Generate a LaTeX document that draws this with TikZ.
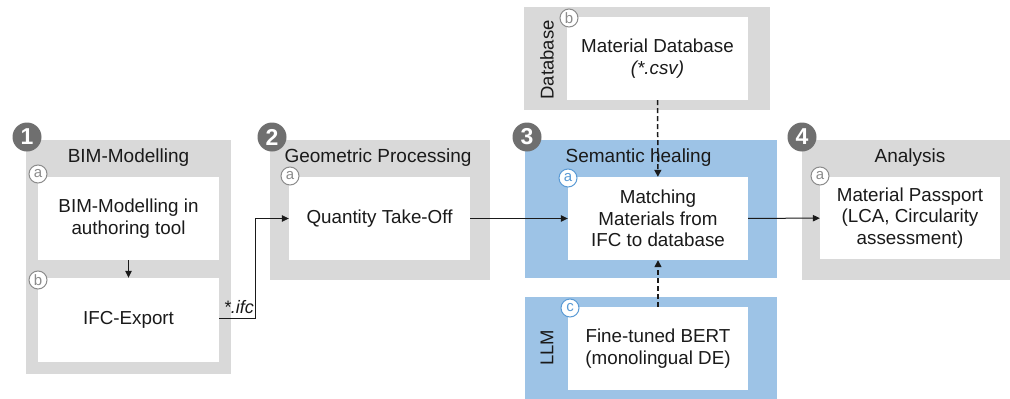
\documentclass[tikz,border=0pt]{standalone}
\usepackage{fontspec}
\setmainfont{Liberation Sans}
\usetikzlibrary{arrows.meta}
\definecolor{pgray}{HTML}{D9D9D9}
\definecolor{pblue}{HTML}{9DC3E6}
\definecolor{numgray}{HTML}{6F6F6F}
\definecolor{lgray}{HTML}{8C8C8C}
\definecolor{lblue}{HTML}{5B9BD5}
\definecolor{txt}{HTML}{1A1A1A}
\begin{document}
\begin{tikzpicture}[x=1pt,y=-1pt,
  panel/.style={rectangle, draw=none, inner sep=0pt},
  wbox/.style={rectangle, fill=white, draw=none, inner sep=0pt, align=center, text=txt,
    font=\fontsize{18.8}{21.5}\selectfont},
  ttl/.style={inner sep=0pt, text=txt, font=\fontsize{19}{21}\selectfont},
  num/.style={circle, fill=numgray, text=white, inner sep=0pt, minimum size=29pt,
    font=\fontsize{23}{23}\selectfont\bfseries},
  lett/.style={circle, fill=white, draw=lgray, line width=1pt, text=lgray, inner sep=0pt,
    minimum size=18pt, font=\fontsize{15}{15}\selectfont},
  lettb/.style={lett, draw=lblue, text=lblue},
  side/.style={inner sep=0pt, rotate=90, text=txt, font=\fontsize{18.5}{20}\selectfont},
  arr/.style={line width=1pt, draw=txt, -{Triangle[length=7pt,width=6.5pt]}},
  thinarr/.style={line width=0.8pt, draw=txt, -{Triangle[length=7pt,width=6.5pt]}},
  dasharr/.style={line width=1.5pt, draw=txt, dash pattern=on 5pt off 3pt,
    -{Triangle[length=7pt,width=7pt]}}
]
\useasboundingbox (0,0) rectangle (1010,399);
\fill[white] (0,0) rectangle (1010,399);

% ---------- Panel 1 ----------
\node[panel, fill=pgray, minimum width=205pt, minimum height=234pt] (p1) at (128.5,257) {};
\node[ttl] (t1) at (128.5,158) {BIM-Modelling};
\node[wbox, minimum width=181pt, minimum height=83pt] (b1a) at (128.5,218.5) {BIM-Modelling in\\authoring tool};
\node[wbox, minimum width=181pt, minimum height=84pt] (b1b) at (128.5,320) {IFC-Export};
\node[num] (n1) at (27,137) {1};
\node[lett] (l1a) at (38,174) {a};
\node[lett] (l1b) at (38,280) {b};

% ---------- Panel 2 ----------
\node[panel, fill=pgray, minimum width=220pt, minimum height=140pt] (p2) at (380,210) {};
\node[ttl] (t2) at (378,158) {Geometric Processing};
\node[wbox, minimum width=181pt, minimum height=83pt] (b2a) at (379.5,218.5) {Quantity Take-Off};
\node[num] (n2) at (272,137) {2};
\node[lett] (l2a) at (290,176) {a};

% ---------- Panel 3 ----------
\node[panel, fill=pgray, minimum width=246pt, minimum height=103pt] (p3b) at (647,58.5) {};
\node[side] (s3b) at (547,60) {Database};
\node[wbox, minimum width=181pt, minimum height=83pt] (b3b) at (657.5,58.5) {Material Database\\\textit{(*.csv)}};
\node[lett] (l3b) at (569,18) {b};

\node[panel, fill=pblue, minimum width=252pt, minimum height=138pt] (p3) at (651,209) {};
\node[wbox, minimum width=180pt, minimum height=83pt] (b3a) at (658,218.5) {Matching\\Materials from\\IFC to database};
\node[num] (n3) at (527,137) {3};
\node[lettb] (l3a) at (568,178) {a};

\node[panel, fill=pblue, minimum width=252pt, minimum height=102pt] (p3c) at (651,348) {};
\node[side] (s3c) at (547,348) {LLM};
\node[wbox, minimum width=180pt, minimum height=83pt] (b3c) at (658,348.5) {Fine-tuned BERT\\(monolingual DE)};
\node[lettb] (l3c) at (570,308) {c};

% ---------- Panel 4 ----------
\node[panel, fill=pgray, minimum width=208pt, minimum height=140pt] (p4) at (906,210) {};
\node[ttl] (t4) at (910,158) {Analysis};
\node[wbox, minimum width=180pt, minimum height=82pt] (b4a) at (910,218) {Material Passport\\(LCA, Circularity\\assessment)};
\node[num] (n4) at (802,137) {4};
\node[lett] (l4a) at (820,176) {a};

% ---------- Connectors ----------
\draw[arr] (b1a) -- (b1b);
\coordinate (e1) at (255,318);
\coordinate (e2) at (255,218.5);
\draw[thinarr] (b1b.east |- e1) -- (e1) -- (e2) -- (b2a.west);
\node[inner sep=0pt, text=txt, font=\fontsize{18}{18}\selectfont\itshape, anchor=south east] (ifc) at (254,314) {*.ifc};
\draw[arr] (b2a) -- (b3a);
\draw[arr] (b3a) -- (b4a);
\node[ttl] (t3) at (638.5,158) {Semantic healing};
\draw[dasharr] (b3b) -- (b3a);
\draw[dasharr] (b3c) -- (b3a);
\end{tikzpicture}
\end{document}
